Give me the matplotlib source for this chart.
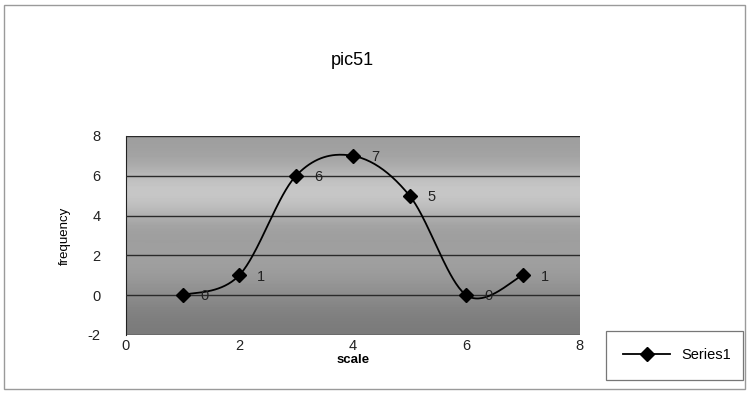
import numpy as np
import matplotlib
matplotlib.use("Agg")
import matplotlib.pyplot as plt
from matplotlib.patches import Rectangle
from matplotlib.lines import Line2D

plt.rcParams['font.family'] = ['Liberation Sans', 'DejaVu Sans']
plt.rcParams['axes.unicode_minus'] = False

x_vals = [1, 2, 3, 4, 5, 6, 7]
y_vals = [0, 1, 6, 7, 5, 0, 1]
point_labels = ['0', '1', '6', '7', '5', '0', '1']
title = 'pic51'
x_label = 'scale'
y_label = 'frequency'
series_name = 'Series1'


def smooth(xs, ys, n=40):
    # Excel-like smoothed line: cubic Bezier segments with Catmull-Rom control points
    xs = np.asarray(xs, float)
    ys = np.asarray(ys, float)
    P = np.column_stack([xs, ys])
    pts = []
    for i in range(len(P) - 1):
        p0 = P[i - 1] if i > 0 else P[i]
        p1 = P[i]
        p2 = P[i + 1]
        p3 = P[i + 2] if i + 2 < len(P) else P[i + 1]
        c1 = p1 + (p2 - p0) / 6.0
        c2 = p2 - (p3 - p1) / 6.0
        t = np.linspace(0, 1, n)[:, None]
        seg = ((1 - t) ** 3) * p1 + 3 * ((1 - t) ** 2) * t * c1 + 3 * (1 - t) * t ** 2 * c2 + t ** 3 * p2
        pts.append(seg if i == 0 else seg[1:])
    pts = np.vstack(pts)
    return pts[:, 0], pts[:, 1]


fig = plt.figure(figsize=(7.49, 3.94), dpi=100)
fig.patch.set_facecolor('white')

# outer chart frame
fig.add_artist(Rectangle((0.006, 0.012), 0.988, 0.976, transform=fig.transFigure,
                         fill=False, edgecolor='#9a9a9a', linewidth=1.0))

ax = fig.add_axes([0.168, 0.150, 0.606, 0.505])

# gray banded background (scanned look)
grad = np.array([0.48, 0.52, 0.58, 0.63, 0.62, 0.62, 0.76, 0.80, 0.66, 0.62])[:, None]
ax.imshow(grad, extent=[0, 8, -2, 8], aspect='auto', cmap='gray', vmin=0, vmax=1,
          origin='lower', interpolation='bicubic', zorder=0)

ax.set_xlim(0, 8)
ax.set_ylim(-2, 8)
ax.set_xticks([0, 2, 4, 6, 8])
ax.set_yticks([-2, 0, 2, 4, 6, 8])
ax.yaxis.grid(True, color='#2a2a2a', linewidth=1.0)
ax.set_axisbelow(False)
for s in ['top', 'right']:
    ax.spines[s].set_visible(False)
ax.spines['left'].set_color('#222222')
ax.spines['bottom'].set_visible(False)
ax.tick_params(axis='both', length=0, labelsize=10.5, colors='#222222')
ax.tick_params(axis='x', pad=3)
ax.tick_params(axis='y', pad=18)

sx, sy = smooth(x_vals, y_vals)
ax.plot(sx, sy, color='black', linewidth=1.3, zorder=3)
ax.plot(x_vals, y_vals, linestyle='none', marker='D', markersize=7, color='black', zorder=4)

for xv, yv, lab in zip(x_vals, y_vals, point_labels):
    ax.annotate(lab, (xv, yv), xytext=(13, -1), textcoords='offset points',
                ha='left', va='center', fontsize=10.5, color='#222222', zorder=5)

ax.set_xlabel(x_label, fontsize=9.5, fontweight='bold', labelpad=1)
ax.set_ylabel(y_label, fontsize=9.5, labelpad=12)
ax.set_title(title, fontsize=13, pad=51)

# legend
legend_handle = Line2D([], [], color='black', marker='D', markersize=7, linewidth=1.3)
leg = fig.legend([legend_handle], [series_name], loc='lower left',
                 bbox_to_anchor=(0.809, 0.036, 0.183, 0.119), mode='expand',
                 borderaxespad=0, fontsize=10.5, frameon=True, fancybox=False,
                 edgecolor='#555555', handlelength=3.2, borderpad=1.2)
leg.get_frame().set_linewidth(0.9)

fig.savefig('out.png', dpi=100, facecolor='white')
